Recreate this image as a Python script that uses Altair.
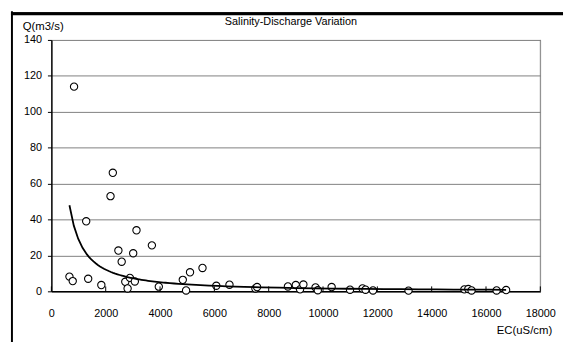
import altair as alt
import pandas as pd

ec = [835, 2262, 2177, 1282, 3133, 3700, 2467, 3012, 2588, 5563, 5104, 4838,
      665, 786, 1355, 1839, 2721, 2891, 3072, 2806, 3955, 4959, 6071, 6556,
      7511, 7572, 8708, 8998, 9155, 9277, 9724, 9808, 10317, 10994, 11454,
      11564, 11840, 13147, 15203, 15348, 15468, 16390, 16740]
q = [114, 66, 53, 39, 34, 25.6, 22.7, 21.2, 16.5, 13, 10.6, 6.4,
     8.2, 5.7, 7, 3.5, 5.3, 7.5, 5.5, 1.6, 2.6, 0.5, 3.1, 3.7,
     1.6, 2.4, 2.7, 3.5, 1.1, 3.8, 2.2, 0.6, 2.4, 0.9, 1.6,
     0.9, 0.5, 0.4, 1.1, 1.3, 0.5, 0.5, 0.7]
x_ticks = [0, 2000, 4000, 6000, 8000, 10000, 12000, 14000, 16000, 18000]
y_ticks = [0, 20, 40, 60, 80, 100, 120, 140]

df = pd.DataFrame({"EC": ec, "Q": q})
xtick_df = pd.DataFrame({"EC": x_ticks})

FONT = "Liberation Sans"
W, H = 496, 255

xs = alt.Scale(domain=[0, 18000], nice=False, zero=False)
ys = alt.Scale(domain=[0, 140], nice=False, zero=False)

xaxis = alt.Axis(values=x_ticks, title=None, grid=False, ticks=False,
                 domainColor="black", domainWidth=1.5,
                 labelFont=FONT, labelFontSize=11, labelColor="black",
                 labelPadding=17, format="d", labelFlush=False, labelOverlap=False)
yaxis = alt.Axis(values=y_ticks, title=None, grid=True, gridColor="#808080", gridWidth=1,
                 tickColor="black", tickSize=4, tickWidth=1,
                 domainColor="black", domainWidth=1.5,
                 labelFont=FONT, labelFontSize=11, labelColor="black", labelPadding=6,
                 labelFlush=False, labelOverlap=False)

X = alt.X("EC:Q", scale=xs, axis=xaxis)
Y = alt.Y("Q:Q", scale=ys, axis=yaxis)

base = alt.Chart(df)

# right border of the plot
rborder = alt.Chart(pd.DataFrame({"a": [1]})).mark_rule(color="#808080", strokeWidth=1).encode(
    x=alt.value(W), y=alt.value(0), y2=alt.value(H))

trend = base.transform_regression("EC", "Q", method="pow").mark_line(
    color="black", strokeWidth=1.8).encode(x=X, y=Y)

points = base.mark_point(shape="circle", filled=True, fill="white", stroke="black",
                         strokeWidth=1.1, size=55, opacity=1).encode(x=X, y=Y)

xticks = alt.Chart(xtick_df).mark_rule(color="black", strokeWidth=1).encode(
    x=X, y=alt.value(H - 5), y2=alt.value(H))

title = alt.Chart(pd.DataFrame({"s": ["Salinity-Discharge Variation"]})).mark_text(
    font=FONT, fontSize=11, color="black", align="center", baseline="middle").encode(
    text="s:N", x=alt.value(243), y=alt.value(-18))

ylab = alt.Chart(pd.DataFrame({"s": ["Q(m3/s)"]})).mark_text(
    font=FONT, fontSize=11.5, color="black", align="left", baseline="middle").encode(
    text="s:N", x=alt.value(-29), y=alt.value(-13))

xlab = alt.Chart(pd.DataFrame({"s": ["EC(uS/cm)"]})).mark_text(
    font=FONT, fontSize=11.5, color="black", align="right", baseline="middle").encode(
    text="s:N", x=alt.value(508), y=alt.value(295))

border_left = alt.Chart(pd.DataFrame({"a": [2]})).mark_rect(color="black").encode(
    x=alt.value(-41), x2=alt.value(-39), y=alt.value(-29), y2=alt.value(320))
border_top = alt.Chart(pd.DataFrame({"a": [3]})).mark_rect(color="black", opacity=1).encode(
    x=alt.value(-41), x2=alt.value(519), y=alt.value(-28), y2=alt.value(-25))
border_top2 = alt.Chart(pd.DataFrame({"a": [4]})).mark_rule(color="black", strokeWidth=2).encode(
    x=alt.value(-40), x2=alt.value(519), y=alt.value(-27), y2=alt.value(-27))

chart = alt.layer(points, rborder, trend, xticks, border_left,
                  title, ylab, xlab, border_top, border_top2).properties(
    width=W, height=H,
    autosize=alt.AutoSizeParams(type="none"),
    padding={"left": 44, "top": 30, "right": 24, "bottom": 49},
).configure_view(stroke=None).configure(background="white")

chart.save("out.html", embed_options={"renderer": "svg", "actions": False})
